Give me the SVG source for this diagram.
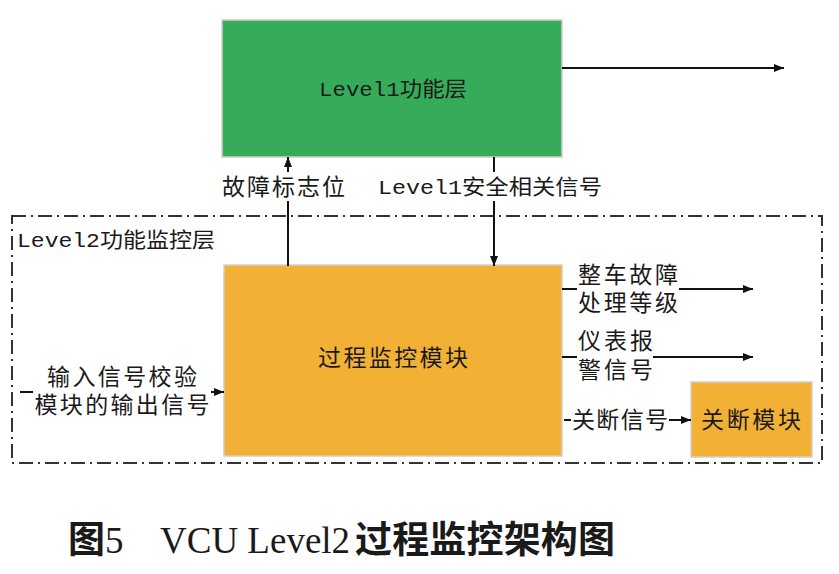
<svg xmlns="http://www.w3.org/2000/svg" width="839" height="574" viewBox="0 0 839 574">
<defs>
<style>
.cn{font-family:"Noto Sans CJK SC","Noto Sans",sans-serif;fill:#1a1a1a;font-size:23px;}
.mono{font-family:"Liberation Mono","Noto Sans CJK SC",monospace;fill:#1a1a1a;font-size:21px;}
.ln{stroke:#111;stroke-width:2;fill:none;}
.box{stroke:#cfcfcf;stroke-width:1.5;}
</style>
<marker id="ah" viewBox="0 0 10 10" refX="10" refY="5" markerWidth="10" markerHeight="10" markerUnits="userSpaceOnUse" orient="auto">
<path d="M0,1 L10,5 L0,9 Z" fill="#111"/>
</marker>
</defs>
<rect width="839" height="574" fill="#fff"/>
<g id="level2-frame">
<rect x="12" y="216" width="810" height="247" fill="none" stroke="#333" stroke-width="2" stroke-dasharray="14 5 2 5"/>
<text class="mono" x="17" y="247" textLength="198" lengthAdjust="spacingAndGlyphs">Level2功能监控层</text>
</g>
<g id="level1">
<rect class="box" x="222" y="20" width="340" height="137" fill="#36AC5A"/>
<text class="mono" x="393" y="96" text-anchor="middle" textLength="148" lengthAdjust="spacingAndGlyphs">Level1功能层</text>
</g>
<g id="process-monitor">
<rect class="box" x="224" y="265" width="338" height="191" fill="#F2B134"/>
<text class="cn" x="393" y="366" text-anchor="middle" textLength="150" lengthAdjust="spacing">过程监控模块</text>
</g>
<g id="shutdown">
<rect class="box" x="691" y="382" width="121" height="75" fill="#F2B134"/>
<text class="cn" x="751" y="428" text-anchor="middle" textLength="100" lengthAdjust="spacing">关断模块</text>
</g>
<g id="connectors">
<line class="ln" x1="562" y1="68" x2="784" y2="68" marker-end="url(#ah)"/>
<line class="ln" x1="288" y1="266" x2="288" y2="201"/>
<line class="ln" x1="288" y1="172" x2="288" y2="157" marker-end="url(#ah)"/>
<line class="ln" x1="494" y1="157" x2="494" y2="172"/>
<line class="ln" x1="494" y1="201" x2="494" y2="266" marker-end="url(#ah)"/>
<line class="ln" x1="20" y1="392" x2="33" y2="392"/>
<line class="ln" x1="211" y1="392" x2="224" y2="392" marker-end="url(#ah)"/>
<line class="ln" x1="562" y1="289" x2="577" y2="289"/>
<line class="ln" x1="679" y1="289" x2="753" y2="289" marker-end="url(#ah)"/>
<line class="ln" x1="562" y1="357" x2="577" y2="357"/>
<line class="ln" x1="653" y1="357" x2="753" y2="357" marker-end="url(#ah)"/>
<line class="ln" x1="564" y1="420" x2="571" y2="420"/>
<line class="ln" x1="669" y1="420" x2="691" y2="420" marker-end="url(#ah)"/>
</g>
<g id="labels">
<text class="cn" x="222" y="195" textLength="123" lengthAdjust="spacing">故障标志位</text>
<text class="mono" x="378" y="194" textLength="224" lengthAdjust="spacingAndGlyphs">Level1安全相关信号</text>
<text class="cn" text-anchor="middle"><tspan x="122" y="385" textLength="150" lengthAdjust="spacing">输入信号校验</tspan><tspan x="122" y="413" textLength="175" lengthAdjust="spacing">模块的输出信号</tspan></text>
<text class="cn"><tspan x="578" y="283" textLength="100" lengthAdjust="spacing">整车故障</tspan><tspan x="578" y="311" textLength="100" lengthAdjust="spacing">处理等级</tspan></text>
<text class="cn"><tspan x="578" y="349" textLength="75" lengthAdjust="spacing">仪表报</tspan><tspan x="578" y="378" textLength="75" lengthAdjust="spacing">警信号</tspan></text>
<text class="cn" x="572" y="428" textLength="96" lengthAdjust="spacing">关断信号</text>
</g>
<g id="caption">
<text x="68" y="553" style="font-size:37px;fill:#1a1a1a"><tspan style="font-family:'Noto Sans CJK SC',sans-serif;font-weight:bold">图</tspan><tspan style="font-family:'Liberation Serif',serif">5</tspan><tspan x="160" style="font-family:'Liberation Serif',serif">VCU Level2</tspan><tspan x="355" style="font-family:'Noto Sans CJK SC',sans-serif;font-weight:bold" textLength="260" lengthAdjust="spacing">过程监控架构图</tspan></text>
</g>
</svg>
